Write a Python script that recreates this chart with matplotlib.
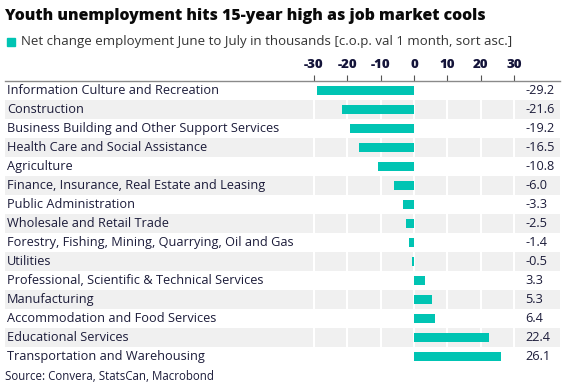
import matplotlib
matplotlib.use('Agg')
import matplotlib.pyplot as plt
import matplotlib.transforms as mtransforms
from matplotlib.patches import Rectangle

# sector names, sorted ascending by change
categories = [
    'Information Culture and Recreation',
    'Construction',
    'Business Building and Other Support Services',
    'Health Care and Social Assistance',
    'Agriculture',
    'Finance, Insurance, Real Estate and Leasing',
    'Public Administration',
    'Wholesale and Retail Trade',
    'Forestry, Fishing, Mining, Quarrying, Oil and Gas',
    'Utilities',
    'Professional, Scientific & Technical Services',
    'Manufacturing',
    'Accommodation and Food Services',
    'Educational Services',
    'Transportation and Warehousing',
]
values = [-29.2, -21.6, -19.2, -16.5, -10.8, -6.0, -3.3, -2.5, -1.4, -0.5,
          3.3, 5.3, 6.4, 22.4, 26.1]
x_ticks = [-30, -20, -10, 0, 10, 20, 30]

plt.rcParams['font.family'] = ['Open Sans', 'DejaVu Sans']

W, H = 562, 389
fig = plt.figure(figsize=(W / 100, H / 100), dpi=100)

# table area in pixels
left_px, right_px, top_px, bottom_px = 5, 560, 81, 366
ax = fig.add_axes([left_px / W, 1 - bottom_px / H,
                   (right_px - left_px) / W, (bottom_px - top_px) / H])

zero_px = 414
px_per_unit = 100 / 30
ax.set_xlim((left_px - zero_px) / px_per_unit, (right_px - zero_px) / px_per_unit)
n = len(categories)
ax.set_ylim(n - 0.5, -0.5)

# alternating row shading
for i in range(n):
    if i % 2 == 1:
        ax.axhspan(i - 0.5, i + 0.5, color='#f0f0f0', lw=0, zorder=0)

ax.vlines(x_ticks, -0.5, n - 0.5, colors='white', lw=1.5, zorder=1)
ax.barh(range(n), values, height=0.52, color='#00c4b3', zorder=2)

text_color = '#1c1c3a'
trans = mtransforms.blended_transform_factory(ax.transAxes, ax.transData)
val_x = (525 - left_px) / (right_px - left_px)
for i, (cat, v) in enumerate(zip(categories, values)):
    ax.text(0.004, i, cat, transform=trans, va='center', ha='left',
            fontsize=9.2, color=text_color)
    ax.text(val_x, i, f'{v:.1f}', transform=trans, va='center', ha='left',
            fontsize=9.2, color=text_color)

for s in ['left', 'right', 'bottom']:
    ax.spines[s].set_visible(False)
ax.spines['top'].set_color('#8a8a8a')
ax.spines['top'].set_linewidth(1)
ax.set_yticks([])
ax.xaxis.tick_top()
ax.set_xticks(x_ticks)
ax.set_xticklabels([str(t) for t in x_ticks], fontweight='heavy', color='#14143a')
ax.tick_params(axis='x', direction='out', length=4, width=0.8, color='#555555',
               labelsize=9.5, pad=3)

fig.text(5 / W, 1 - 16 / H, 'Youth unemployment hits 15-year high as job market cools',
         fontsize=11.4, fontweight='heavy', va='center', ha='left', color='#0a0a0a')

fig.patches.append(Rectangle((7 / W, 1 - 46 / H), 8 / W, 8 / H,
                             transform=fig.transFigure, color='#00c4b3'))
fig.text(21 / W, 1 - 42 / H,
         'Net change employment June to July in thousands [c.o.p. val 1 month, sort asc.]',
         fontsize=9.5, va='center', ha='left', color='#333333')

fig.text(5 / W, 1 - 377 / H, 'Source: Convera, StatsCan, Macrobond',
         fontsize=8.3, va='center', ha='left', color=text_color)

fig.savefig('out.png', dpi=100)
